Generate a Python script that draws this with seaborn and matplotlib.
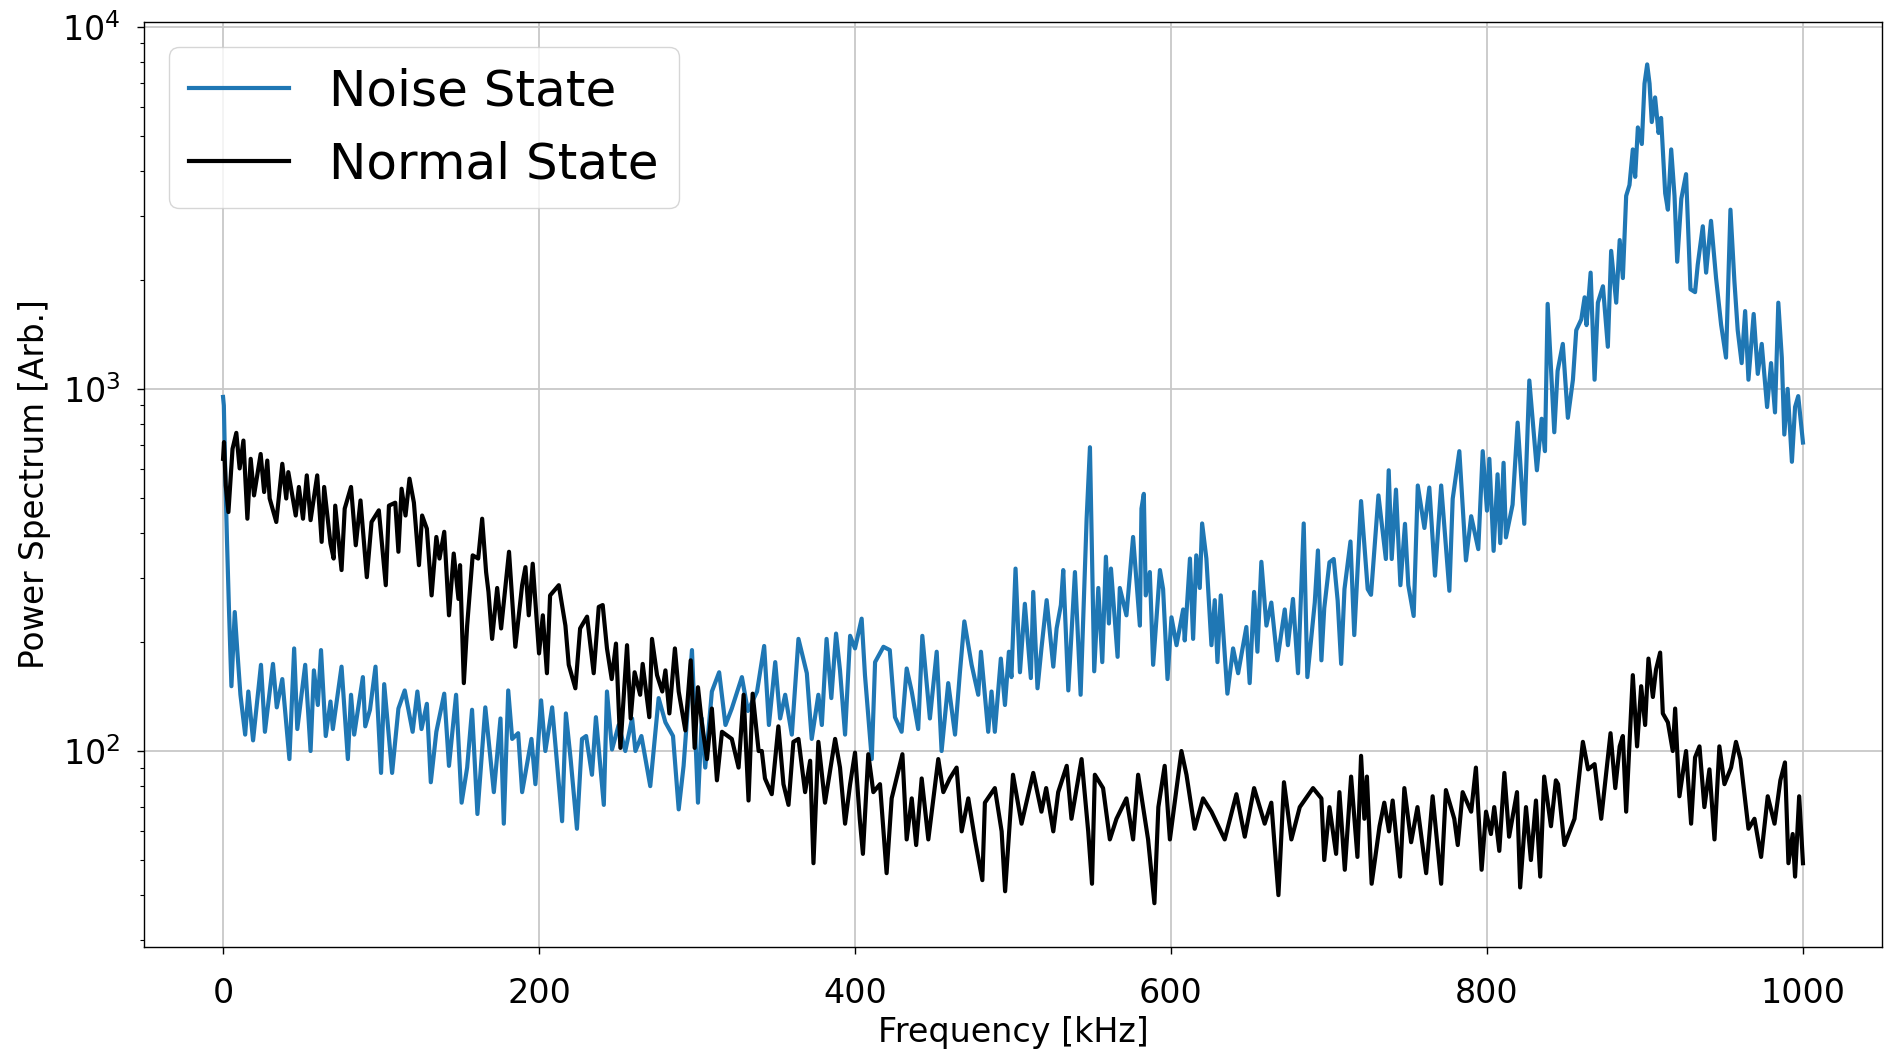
import matplotlib
matplotlib.use("Agg")
import matplotlib.pyplot as plt
import seaborn as sns

# ---- Noise State (blue) : frequency [kHz] and power spectrum [arb.]
noise_freq = [0, 0.5, 1.5, 2.5, 3.8, 5.3, 7.4, 9, 11, 14, 16, 19, 24, 26.5, 31.6, 34, 37.5, 42, 45, 47,
              52, 55.4, 57.5, 60, 62, 65, 68, 69.5, 75, 79, 81, 83, 88.5, 90, 93, 96.5, 100, 102, 107, 111,
              115, 120, 123, 125.6, 129, 131.5, 135, 140, 143, 147.5, 151, 154.5, 157.6, 161, 166, 171.4, 175.6, 177.7, 180.5, 183,
              186.8, 189.3, 195.2, 197.7, 201.3, 204, 208.3, 214.6, 217, 220, 224, 227.2, 229.8, 233.5, 236, 241, 243, 246.2, 250.4, 254.6,
              258.9, 261, 264.8, 270.4, 275.7, 280, 284.8, 288.4, 291.5, 296.8, 300.6, 303, 305.2, 309.4, 314, 318, 322, 328.4, 332.2, 338,
              342.5, 345.5, 349.5, 352.6, 355.8, 360, 364.2, 369.5, 372.6, 376.8, 379, 382, 385, 388, 390.5, 393.7, 396.9, 400, 404.2, 406.3,
              410.6, 412.7, 418, 422, 425.3, 429.5, 432.7, 435.9, 440, 442.6, 447.4, 451.7, 454.8, 459, 463.3, 466.4, 469.2, 473.8, 478, 479.7,
              484.3, 486.4, 488.5, 492.3, 494.9, 497.4, 499, 501.6, 504.4, 507.5, 511.3, 512.8, 515.5, 518, 521.3, 525.5, 527.6, 530.3, 531.8, 535,
              539.2, 542.8, 546.6, 548.7, 551.4, 554, 556.5, 558.8, 560.7, 562, 566.2, 567.6, 571.8, 576, 580.3, 581.3, 582.8, 584, 586.6, 588.7,
              593, 595, 597.8, 600.3, 603.5, 607.7, 608.7, 612, 614, 616, 618.2, 619.7, 622.4, 625.6, 627.7, 629.4, 631.5, 635.7, 639.3, 642.5,
              647.7, 649.8, 652.6, 654.7, 657.2, 660.4, 663.5, 667.3, 672, 674, 677.2, 680.4, 684, 686.3, 691, 693, 695.2, 697, 700.3, 703,
              705.5, 707.7, 709.8, 713.6, 716, 720.3, 724.5, 726.6, 731.3, 734, 736, 737.8, 739.7, 742.4, 745.2, 748.1, 750.2, 753.6, 756.2, 760.4,
              763.5, 767.1, 771, 776.2, 778.3, 782.5, 786.7, 790, 794.5, 797.3, 800, 801.5, 804.2, 806.7, 808.4, 810.5, 812, 816.2, 819.4, 823.6,
              826.8, 831.6, 834.6, 836.7, 838.4, 842.6, 844.7, 848, 851.2, 854.4, 856.5, 859.7, 861.8, 863, 865.6, 868.1, 870.2, 873.4, 876.5, 878.6,
              881.8, 884, 886, 888.1, 890.2, 892.3, 893.8, 895.5, 898, 899.7, 901.4, 902.9, 904.3, 906.4, 908.6, 910.2, 912.8, 914.5, 916.6, 918.7,
              920.4, 923, 926, 928.8, 931.7, 933.4, 936.6, 938.7, 941.8, 945, 948.2, 951.3, 954.1, 956.6, 958.7, 961.2, 963.4, 965.5, 968.8, 971.4,
              973.9, 977.3, 979.8, 982.3, 984.4, 986.6, 988.2, 990.3, 993, 995, 997, 1000]
noise_power = [950, 900, 560, 380, 242, 151, 242, 190, 143, 111, 146, 107, 173, 113, 174, 132, 158, 95, 192, 115,
               173, 100, 167, 134, 190, 110, 137, 115, 171, 95, 143, 111, 160, 117, 130, 171, 87, 153, 87, 131,
               147, 113, 146, 115, 135, 82, 113, 144, 91, 143, 72, 90, 130, 67, 132, 77, 123, 63, 147, 108,
               112, 77, 108, 81, 138, 100, 132, 64, 127, 95, 61, 108, 110, 86, 124, 71, 146, 101, 118, 100,
               123, 100, 110, 80, 140, 120, 110, 69, 91, 190, 72, 123, 90, 146, 165, 118, 131, 160, 129, 146,
               195, 118, 176, 123, 143, 111, 204, 164, 108, 143, 118, 204, 140, 211, 167, 111, 208, 192, 232, 162,
               95, 176, 194, 190, 124, 113, 169, 146, 115, 208, 123, 188, 100, 154, 111, 165, 228, 173, 143, 188,
               113, 146, 113, 180, 134, 188, 160, 319, 165, 255, 159, 275, 149, 192, 261, 171, 218, 253, 316, 147,
               312, 143, 438, 690, 166, 282, 176, 344, 225, 319, 182, 282, 237, 390, 222, 467, 513, 269, 312, 173,
               316, 280, 158, 234, 196, 246, 202, 340, 204, 347, 282, 425, 340, 196, 261, 176, 269, 144, 192, 164,
               220, 154, 275, 188, 333, 222, 257, 178, 246, 196, 263, 164, 425, 160, 257, 358, 178, 248, 332, 339,
               260, 174, 280, 379, 209, 490, 280, 270, 508, 404, 339, 596, 339, 527, 287, 424, 287, 236, 541, 413,
               534, 305, 541, 277, 497, 673, 336, 445, 361, 673, 461, 641, 357, 581, 375, 625, 389, 479, 807, 424,
               1055, 596, 827, 673, 1717, 759, 1121, 1331, 832, 1060, 1452, 1556, 1790, 1500, 2094, 1060, 1730, 1920, 1307, 2405,
               1730, 2576, 2023, 3412, 3656, 4584, 3850, 5272, 4745, 6962, 7870, 6962, 5455, 6380, 5090, 5600, 3467, 3125, 4584, 3412,
               2244, 3350, 3917, 1884, 1850, 2203, 2812, 2094, 2911, 2023, 1503, 1220, 3125, 1985, 1452, 1178, 1640, 1060, 1610, 1100,
               1331, 891, 1178, 861, 1730, 1220, 748, 1000, 629, 891, 955, 711]

# ---- Normal State (black)
normal_freq = [0, 0.6, 1.7, 3.4, 6, 8.4, 10.5, 12.9, 15.4, 17.5, 19.6, 23.8, 26, 28, 29.5, 33.7, 37.5, 40, 41.3, 46,
               48, 50.6, 53, 55.4, 59.6, 62.4, 64, 68, 70, 71, 75, 77, 81, 84, 87, 91, 94, 98.6, 103, 105,
               109, 111, 113, 115.5, 118, 120.8, 124, 126, 129, 132, 135, 137, 140, 143, 146, 149, 150, 152.4, 154.5, 158,
               161.5, 164, 166.5, 168, 170.3, 173.5, 176, 181, 185, 189.3, 191.4, 193.5, 196, 200, 202.4, 205, 207, 212.5, 216.7, 218.8,
               223, 226, 230.4, 234.6, 237.8, 240.3, 243, 246, 248.7, 251.5, 255.7, 258, 260.5, 264, 265.6, 269.8, 271.5, 274.7, 278, 280,
               282.5, 286, 288.4, 292.6, 296, 298.5, 300.6, 303, 306.3, 309.4, 312.6, 315.8, 322, 326.3, 329.5, 332.6, 335.2, 339, 341, 343,
               347.3, 351.5, 354.7, 357.9, 361, 364.2, 368.4, 371.6, 373.7, 376.8, 381, 387.4, 390.5, 393.7, 396.9, 400, 403, 405, 408.4, 411.6,
               415.8, 420, 423.2, 430, 432.7, 435.9, 438.7, 442.2, 446.4, 452.7, 455.9, 460, 464.3, 467.5, 471.7, 475.9, 480.6, 482.2, 488.5, 492.8,
               495, 500, 505.4, 512.8, 518, 521, 525.5, 528.6, 534, 537, 543.4, 547.6, 550, 551.8, 557, 561.3, 565.5, 571.8, 576, 579.2,
               585.5, 589.5, 592, 596, 599.3, 606.6, 609.8, 615, 620.3, 625.6, 634, 641.4, 646.7, 652.6, 659.3, 663.5, 668, 671.5, 676.2, 681.5,
               689.9, 695.2, 697, 700.3, 704.5, 706.6, 710, 714, 718, 720.3, 722.4, 724, 727, 732, 735, 738, 740.3, 745, 747.7, 752,
               756, 761.5, 765.6, 771, 774, 779.3, 781.5, 784.6, 790, 793, 796.6, 799.4, 802.5, 804.6, 807.8, 811, 814, 819, 821, 824.7,
               827.8, 831, 833.7, 836.2, 840.5, 843.6, 845, 849, 855.4, 860.7, 864, 868.1, 872.3, 878.2, 881.2, 884, 886, 888.1, 892.3, 895,
               897.6, 900.1, 902.2, 905, 907, 909.6, 911.3, 914.5, 917.6, 919.1, 921.8, 926, 929.2, 931.7, 934.5, 937.6, 940.8, 944, 947.1, 950.3,
               954.5, 957.6, 960.4, 962.5, 965.5, 969.3, 973.5, 977.7, 982, 985.7, 988.6, 990.8, 993.5, 995, 997.6, 1000]
normal_power = [641, 713, 541, 457, 683, 756, 603, 720, 438, 641, 508, 661, 519, 634, 498, 429, 621, 498, 589, 447,
                536, 438, 577, 434, 577, 378, 536, 374, 340, 476, 316, 467, 536, 370, 492, 302, 429, 462, 287, 476,
                485, 355, 530, 447, 565, 485, 326, 447, 411, 269, 390, 340, 403, 237, 351, 263, 326, 154, 222, 347,
                340, 438, 312, 275, 204, 282, 218, 355, 194, 287, 322, 237, 329, 186, 237, 164, 269, 287, 222, 173,
                149, 218, 235, 164, 250, 253, 192, 158, 198, 102, 196, 123, 165, 143, 174, 124, 204, 162, 146, 167,
                127, 192, 146, 114, 178, 102, 150, 120, 95, 131, 83, 113, 108, 90, 143, 73, 144, 100, 100, 84,
                76, 117, 81, 71, 106, 108, 77, 94, 49, 106, 72, 108, 90, 63, 81, 99, 65, 52, 98, 77,
                81, 46, 74, 98, 57, 74, 55, 84, 57, 95, 77, 84, 90, 60, 74, 57, 44, 72, 79, 60,
                41, 86, 63, 87, 68, 79, 60, 77, 91, 65, 95, 60, 43, 86, 79, 57, 65, 74, 57, 86,
                57, 38, 70, 91, 57, 100, 86, 61, 74, 68, 57, 76, 58, 79, 63, 72, 40, 82, 57, 70,
                79, 74, 50, 70, 52, 77, 47, 85, 51, 97, 65, 85, 43, 62, 72, 60, 73, 45, 79, 56,
                70, 46, 75, 43, 78, 65, 55, 77, 68, 90, 47, 68, 59, 70, 53, 87, 58, 77, 42, 70,
                50, 73, 45, 85, 62, 83, 81, 55, 65, 106, 89, 92, 65, 112, 79, 103, 110, 68, 162, 103,
                151, 118, 180, 141, 168, 187, 127, 120, 100, 131, 75, 100, 63, 96, 103, 70, 89, 57, 103, 81,
                90, 106, 95, 79, 61, 65, 51, 75, 63, 83, 93, 49, 59, 45, 75, 49]

x_ticks = [0, 200, 400, 600, 800, 1000]

fig = plt.figure(figsize=(18.88, 10.52), dpi=100)
ax = fig.add_axes([0.0763, 0.100, 0.9205, 0.879])

sns.lineplot(x=noise_freq, y=noise_power, ax=ax, color="#1f77b4", linewidth=3.0,
             label="Noise State", estimator=None, sort=False)
sns.lineplot(x=normal_freq, y=normal_power, ax=ax, color="black", linewidth=3.0,
             label="Normal State", estimator=None, sort=False)

ax.set_yscale("log")
ax.set_xlim(-50, 1050)
ax.set_ylim(28.8, 10300)
ax.set_xticks(x_ticks)
ax.grid(True, which="major", color="#c8c8c8", linewidth=1.3)
ax.set_axisbelow(True)
for s in ax.spines.values():
    s.set_color("black")
    s.set_linewidth(1.0)

ax.tick_params(axis="both", which="major", labelsize=24, length=5, width=1)
ax.tick_params(axis="x", which="major", pad=17)
ax.tick_params(axis="y", which="major", pad=12)
ax.tick_params(axis="y", which="minor", length=3, width=0.8)
ax.set_xlabel("Frequency [kHz]", fontsize=24, labelpad=4)
ax.set_ylabel("Power Spectrum [Arb.]", fontsize=23.5, labelpad=8)

leg = ax.legend(loc="upper left", fontsize=36, handlelength=2.0, borderpad=0.4,
                labelspacing=0.5, handletextpad=0.8, borderaxespad=0.5, frameon=True)
for line in leg.get_lines():
    line.set_linewidth(3.0)

fig.savefig("out.png", dpi=100)
